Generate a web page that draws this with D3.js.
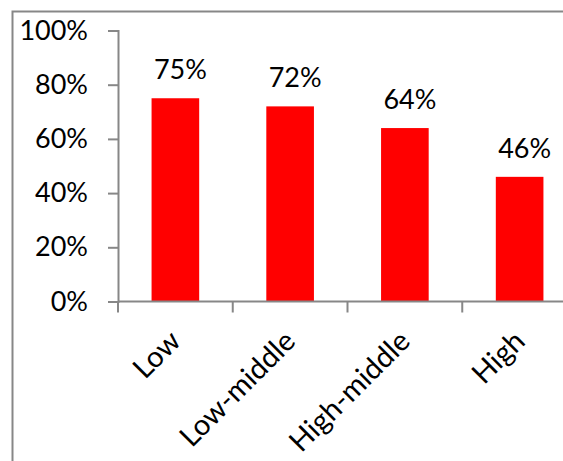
<!DOCTYPE html>
<html>
<head>
<meta charset="utf-8">
<script src="https://cdn.jsdelivr.net/npm/d3@7"></script>
<style>
  html, body { margin: 0; padding: 0; background: #fff; }
  svg text { font-family: Lato, "Open Sans", sans-serif; fill: #000; }
</style>
</head>
<body>
<div id="chart"></div>
<script>
var categories = ["Low", "Low-middle", "High-middle", "High"];
var values = [75, 72, 64, 46];
var yTicks = [0, 20, 40, 60, 80, 100];

var width = 563, height = 461;
var axisColor = "#878787";

var svg = d3.select("#chart").append("svg")
    .attr("width", width)
    .attr("height", height);

// chart area frame (left + top edge)
svg.append("path")
    .attr("d", "M12.5,461 V11.5 H563")
    .attr("fill", "none")
    .attr("stroke", axisColor)
    .attr("stroke-width", 2);

var x = d3.scaleBand()
    .domain(categories)
    .range([118, 577])
    .paddingInner(0.585)
    .paddingOuter(0.2925);

var y = d3.scaleLinear()
    .domain([0, 100])
    .range([301.5, 30.5]);

// bars
svg.selectAll("rect.bar")
    .data(values)
    .enter().append("rect")
    .attr("class", "bar")
    .attr("x", function(d, i) { return x(categories[i]); })
    .attr("y", function(d) { return y(d); })
    .attr("width", x.bandwidth())
    .attr("height", function(d) { return y(0) - y(d); })
    .attr("fill", "#ff0000");

// data labels
svg.selectAll("text.val")
    .data(values)
    .enter().append("text")
    .attr("class", "val")
    .attr("x", function(d, i) { return x(categories[i]) + x.bandwidth() / 2 + 5; })
    .attr("y", function(d) { return y(d) - 19; })
    .attr("text-anchor", "middle")
    .style("font-size", "27px")
    .text(function(d) { return d + "%"; });

// y axis
var yAxis = d3.axisLeft(y)
    .tickValues(yTicks)
    .tickSize(10)
    .tickPadding(20)
    .tickFormat(function(d) { return d + "%"; });

var gY = svg.append("g")
    .attr("transform", "translate(118,0)")
    .call(yAxis);
gY.selectAll("text").style("font-size", "27px").attr("fill", "#000");

// x axis, ticks between categories
var step = x.step();
var xEdges = d3.range(categories.length + 1).map(function(i) { return 118 + i * step; });

var gX = svg.append("g");
gX.append("line")
    .attr("x1", 118).attr("x2", 577)
    .attr("y1", y(0)).attr("y2", y(0))
    .attr("stroke", axisColor).attr("stroke-width", 2);
gX.selectAll("line.tick")
    .data(xEdges)
    .enter().append("line")
    .attr("class", "tick")
    .attr("x1", function(d) { return d; })
    .attr("x2", function(d) { return d; })
    .attr("y1", y(0))
    .attr("y2", y(0) + 11)
    .attr("stroke", axisColor).attr("stroke-width", 2);

gX.selectAll("text")
    .data(categories)
    .enter().append("text")
    .attr("text-anchor", "end")
    .attr("transform", function(d) {
        return "translate(" + (x(d) + x.bandwidth() / 2 + 7) + ",343) rotate(-45)";
    })
    .style("font-size", "29px")
    .text(function(d) { return d; });

gY.select(".domain").attr("stroke", axisColor).attr("stroke-width", 2);
gY.selectAll(".tick line").attr("stroke", axisColor).attr("stroke-width", 2);
</script>
</body>
</html>
